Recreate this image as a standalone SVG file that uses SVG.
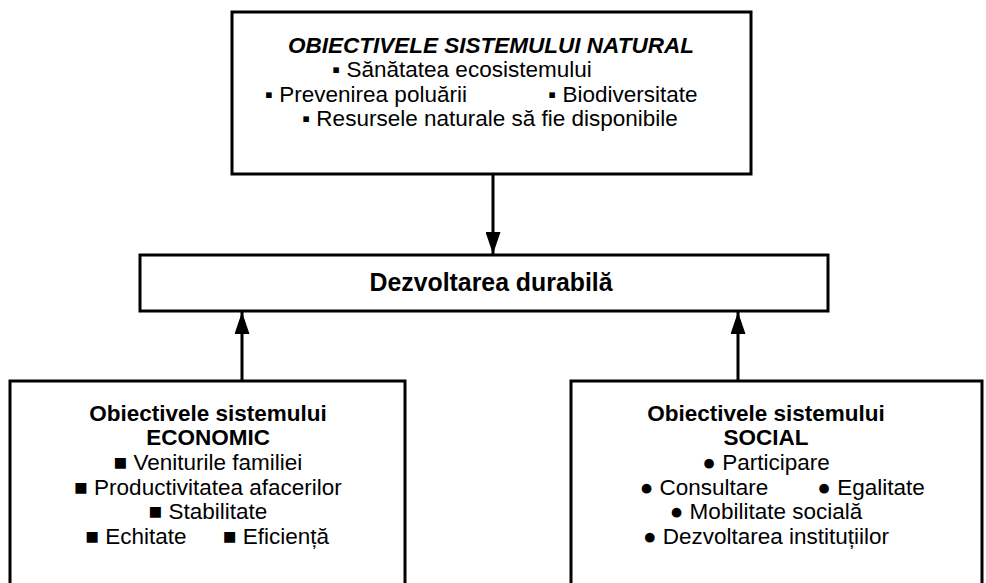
<svg xmlns="http://www.w3.org/2000/svg" width="986" height="583" viewBox="0 0 986 583">
<defs>
<marker id="ah" markerWidth="22" markerHeight="15" refX="22" refY="7.5" orient="auto" markerUnits="userSpaceOnUse">
<path d="M0,0 L22,7.5 L0,15 Z" fill="#000"/>
</marker>
<style>
.box{fill:#fff;stroke:#000;stroke-width:3}
.t{font-family:"Liberation Sans",Arial,sans-serif;font-size:22.5px;fill:#000;text-anchor:middle}
.b{font-weight:bold}
.i{font-style:italic}
.c{stroke:#000;stroke-width:3;fill:none}
</style>
</defs>
<rect width="986" height="583" fill="#fff"/>
<g id="natural">
<rect class="box" x="232" y="12" width="519" height="162"/>
<text class="t b i" x="491" y="53">OBIECTIVELE SISTEMULUI NATURAL</text>
<text class="t" x="462" y="77">▪ Sănătatea ecosistemului</text>
<text class="t" x="366" y="102">▪ Prevenirea poluării</text>
<text class="t" x="623" y="102">▪ Biodiversitate</text>
<text class="t" x="490" y="126">▪ Resursele naturale să fie disponibile</text>
</g>
<g id="dezvoltare">
<rect class="box" x="140" y="255" width="688" height="56"/>
<text class="t b" x="491" y="291" style="font-size:26px" textLength="243" lengthAdjust="spacingAndGlyphs">Dezvoltarea durabilă</text>
</g>
<g id="economic">
<rect class="box" x="10" y="381" width="395" height="220"/>
<text class="t b" x="208" y="421">Obiectivele sistemului</text>
<text class="t b" x="208" y="445">ECONOMIC</text>
<text class="t" x="208" y="470">■ Veniturile familiei</text>
<text class="t" x="208" y="495">■ Productivitatea afacerilor</text>
<text class="t" x="208" y="519">■ Stabilitate</text>
<text class="t" x="136" y="544">■ Echitate</text>
<text class="t" x="276" y="544">■ Eficiență</text>
</g>
<g id="social">
<rect class="box" x="571" y="381" width="411" height="220"/>
<text class="t b" x="766" y="421">Obiectivele sistemului</text>
<text class="t b" x="766" y="445">SOCIAL</text>
<text class="t" x="766" y="470">● Participare</text>
<text class="t" x="704" y="495">● Consultare</text>
<text class="t" x="871" y="495">● Egalitate</text>
<text class="t" x="766" y="519">● Mobilitate socială</text>
<text class="t" x="766" y="544">● Dezvoltarea instituțiilor</text>
</g>
<g id="connectors">
<line class="c" x1="493" y1="175" x2="493" y2="254" marker-end="url(#ah)"/>
<line class="c" x1="242" y1="380" x2="242" y2="312" marker-end="url(#ah)"/>
<line class="c" x1="738" y1="380" x2="738" y2="312" marker-end="url(#ah)"/>
</g>
</svg>
